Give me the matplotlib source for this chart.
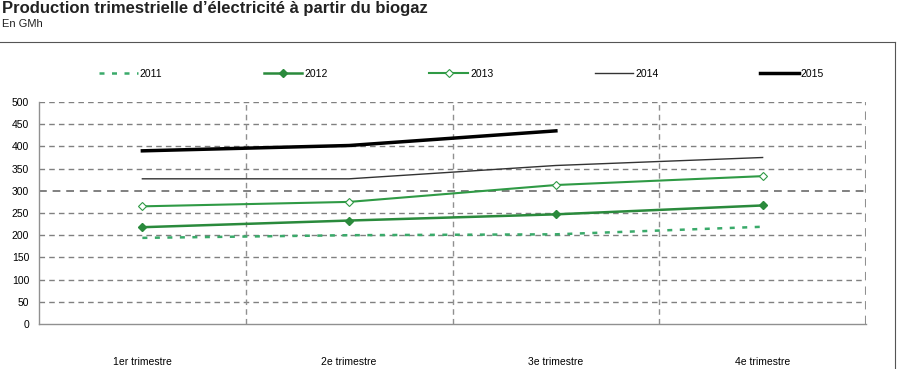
import matplotlib
matplotlib.use("Agg")
import matplotlib.pyplot as plt
from matplotlib.lines import Line2D

categories = ["1er trimestre", "2e trimestre", "3e trimestre", "4e trimestre"]
s2011 = [194, 200, 202, 219]
s2012 = [218, 233, 247, 267]
s2013 = [265, 275, 313, 333]
s2014 = [327, 327, 357, 375]
s2015 = [390, 402, 435]
y_ticks = list(range(0, 501, 50))

plt.rcParams['font.family'] = ['Liberation Sans Narrow', 'Liberation Sans', 'DejaVu Sans']

fig = plt.figure(figsize=(9.05, 3.69), dpi=100)
ax = fig.add_axes([39/905, 1-324/369, (866-39)/905, (324-102)/369])

x = list(range(len(categories)))
ax.plot(x, s2011, color='#3aaa6a', lw=1.8, dashes=(2, 3), label='2011')
ax.plot(x, s2012, color='#2a8a3c', lw=1.8, marker='D', ms=4.5, mfc='#2a8a3c', mec='#2a8a3c', label='2012')
ax.plot(x, s2013, color='#2f9a45', lw=1.5, marker='D', ms=4.5, mfc='white', mec='#2f9a45', mew=0.8, label='2013')
ax.plot(x, s2014, color='#333333', lw=1.0, label='2014')
ax.plot(x[:len(s2015)], s2015, color='black', lw=2.5, label='2015')

ax.set_xlim(-0.5, len(categories) - 0.5)
ax.set_ylim(0, 500)
ax.set_yticks(y_ticks)
ax.set_xticks(x)
ax.set_xticklabels(categories)
ax.tick_params(axis='both', length=0, labelsize=7.5)
ax.tick_params(axis='x', pad=24)
ax.tick_params(axis='y', pad=7)

for yv in y_ticks[1:]:
    ax.axhline(yv, color='#808080', lw=1.4 if yv == 300 else 1.0, dashes=(4, 3), zorder=0)
for xv in [0.5, 1.5, 2.5, 3.5]:
    ax.axvline(xv, color='#909090', lw=1.0 if xv < 3.5 else 1.5, dashes=(4, 3), zorder=0)

for side in ['top', 'right']:
    ax.spines[side].set_visible(False)
for side in ['left', 'bottom']:
    ax.spines[side].set_color('#909090')
    ax.spines[side].set_linewidth(1.0)

leg = fig.legend(loc='center', bbox_to_anchor=(0.105, 0.77, 0.81, 0.06), mode='expand',
                 ncol=5, frameon=False, fontsize=7.5, handlelength=3.7, handletextpad=0.2,
                 borderaxespad=0)

fig.text(2/905, 1-9/369, "Production trimestrielle d\u2019électricité à partir du biogaz",
         fontsize=12, fontweight='bold', va='center', ha='left', color='#222222')
fig.text(2/905, 1-24/369, "En GMh", fontsize=8, va='center', ha='left', color='#222222')

fig.add_artist(Line2D([0, 895/905], [1-42/369, 1-42/369], transform=fig.transFigure, color='#555555', lw=0.8))
fig.add_artist(Line2D([895/905, 895/905], [0, 1-42/369], transform=fig.transFigure, color='#555555', lw=0.8))

fig.savefig("out.png", dpi=100)
